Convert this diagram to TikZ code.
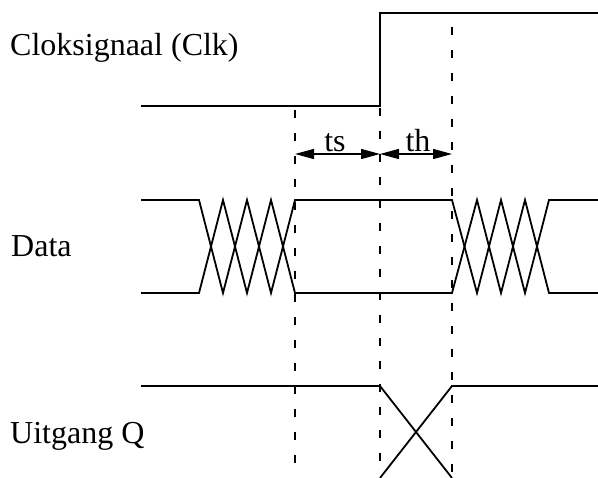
\documentclass[tikz,border=0pt]{standalone}
\usepackage{fontspec}
\setmainfont{Liberation Serif}
\usetikzlibrary{arrows.meta,positioning}

\begin{document}
\begin{tikzpicture}[
    x=1pt, y=-1pt,
    sig/.style={line width=1.8pt, line join=miter},
    guide/.style={line width=1.4pt, dash pattern=on 8pt off 15pt},
    span/.style={line width=1.4pt, {Triangle[length=19pt,width=10pt]}-{Triangle[length=19pt,width=10pt]}},
    lbl/.style={font=\fontsize{32}{38}\selectfont, inner sep=0pt, anchor=base west},
    tlbl/.style={font=\fontsize{32}{38}\selectfont, inner sep=0pt, anchor=base}
]
    \useasboundingbox (0,0) rectangle (598,478);

    % Signal names
    \node[lbl] (clk)  at (10,56)  {Cloksignaal (Clk)};
    \node[lbl] (data) at (11,257) {Data};
    \node[lbl] (out)  at (10,444) {Uitgang Q};

    % Clock
    \draw[sig] (141,106) -- (380,106) -- (380,13) -- (598,13);

    % Data, two zigzags give the crossings
    \draw[sig] (141,200) -- (199,200) -- (223,293) -- (247,200) -- (271,293) -- (295,200)
        -- (452,200) -- (477,293) -- (501,200) -- (525,293) -- (549,200) -- (598,200);
    \draw[sig] (141,293) -- (199,293) -- (223,200) -- (247,293) -- (271,200) -- (295,293)
        -- (452,293) -- (477,200) -- (501,293) -- (525,200) -- (549,293) -- (598,293);

    % Output Q
    \draw[sig] (141,386) -- (380,386) -- (452,478);
    \draw[sig] (380,478) -- (452,386) -- (598,386);

    % Guide lines
    \coordinate (su) at (295,110);
    \coordinate (ck) at (380,108);
    \coordinate (ho) at (452,27);
    \foreach \g/\e in {su/470, ck/470, ho/478} {
        \draw[guide] (\g) -- (\g |- 0,\e);
    }

    % Setup and hold time
    \coordinate (ts0) at (su |- 0,154);
    \coordinate (ts1) at (ck |- 0,154);
    \coordinate (th1) at (ho |- 0,154);
    \draw[span] (ts0) -- (ts1);
    \draw[span] (ts1) -- (th1);
    \node[tlbl] (ts) at (335,152) {ts};
    \node[tlbl] (th) at (418,152) {th};
\end{tikzpicture}
\end{document}
